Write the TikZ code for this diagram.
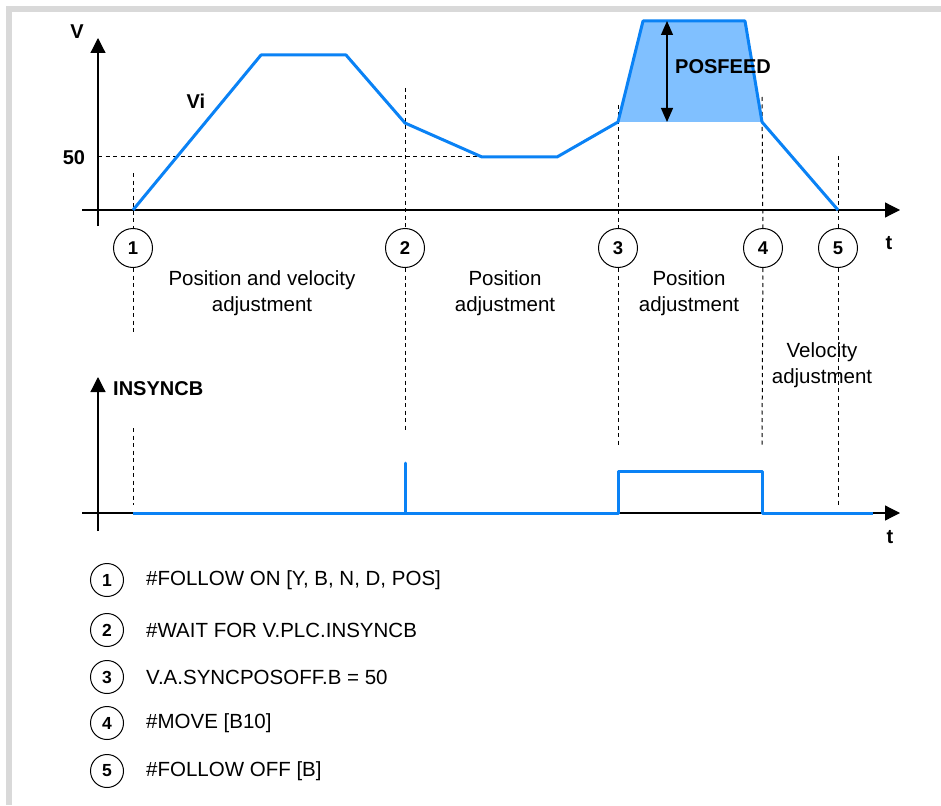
\documentclass[tikz,border=0pt]{standalone}
\usepackage{fontspec}
\setmainfont{Liberation Sans}
\usetikzlibrary{arrows.meta}
\definecolor{curveblue}{RGB}{10,130,245}
\definecolor{fillblue}{RGB}{128,192,255}
\definecolor{framegray}{RGB}{217,217,217}
\begin{document}
\begin{tikzpicture}[x=1pt,y=-1pt,
  axis/.style={line width=1.2pt,-{Triangle[length=15pt,width=15pt]}},
  guide/.style={dash pattern=on 4pt off 3.5pt,line width=1pt},
  speed/.style={curveblue,line width=3pt,line join=round},
  marker/.style={circle,draw,line width=1pt,fill=white,minimum size=39pt,inner sep=0pt,
    font=\bfseries\fontsize{18.5}{18.5}\selectfont},
  legmark/.style={circle,draw,line width=1pt,minimum size=33pt,inner sep=0pt,
    font=\bfseries\fontsize{17.5}{17.5}\selectfont},
  lbl/.style={font=\fontsize{20.5}{26}\selectfont,align=center,inner sep=0pt},
  blbl/.style={font=\bfseries\fontsize{20}{20}\selectfont,inner sep=0pt},
  legtext/.style={font=\fontsize{20.5}{20.5}\selectfont,anchor=west,inner sep=0pt}]

\useasboundingbox (0,0) rectangle (941,805);

% grey frame
\fill[framegray] (6,6) rectangle (941,12);
\fill[framegray] (6,6) rectangle (12,805);

% ---------- velocity diagram ----------
\coordinate (vbot) at (98,226);
\coordinate (vtop) at (98,38);
\coordinate (tleft) at (82,210);
\coordinate (tright) at (900,210);

% reference level 50
\coordinate (h50a) at (98,157);
\coordinate (h50b) at (482,157);
\draw[guide] (h50a) -- (h50b);

% vertical guides with event markers
\node[marker] (m1) at (133,248) {1};
\node[marker] (m2) at (405,248) {2};
\node[marker] (m3) at (618,248) {3};
\node[marker] (m4) at (763,248) {4};
\node[marker] (m5) at (838,248) {5};

\coordinate (g1a) at (133,173); \coordinate (g1b) at (133,335);
\coordinate (g1c) at (133,428); \coordinate (g1d) at (133,505);
\coordinate (g2a) at (405,88);  \coordinate (g2b) at (405,430);
\coordinate (g3a) at (618,105); \coordinate (g3b) at (618,445);
\coordinate (g4a) at (762,97);  \coordinate (g4b) at (762,445);
\coordinate (g5a) at (838,156); \coordinate (g5b) at (838,505);

\draw[guide] (g1a) -- (m1); \draw[guide] (m1) -- (g1b);
\draw[guide] (g1c) -- (g1d);
\draw[guide] (g2a) -- (m2); \draw[guide] (m2) -- (g2b);
\draw[guide] (g3a) -- (m3); \draw[guide] (m3) -- (g3b);
\draw[guide] (g4a) -- (m4); \draw[guide] (m4) -- (g4b);
\draw[guide] (g5a) -- (m5); \draw[guide] (m5) -- (g5b);

% POSFEED area
\fill[fillblue] (618,122) -- (643,21) -- (745,21) -- (762,122) -- cycle;

% axes
\draw[axis] (vbot) -- (vtop);
\draw[axis] (tleft) -- (tright);

% velocity profile
\draw[speed] (133,210) -- (261,55) -- (346,55) -- (405,123) -- (482,157)
  -- (557,157) -- (618,122) -- (643,21) -- (745,21) -- (762,122) -- (838,210);

% POSFEED dimension arrow
\coordinate (pfa) at (667,21);
\coordinate (pfb) at (667,122);
\draw[line width=1.2pt,{Triangle[length=14pt,width=12pt]}-{Triangle[length=14pt,width=12pt]}] (pfa) -- (pfb);

% labels
\node[blbl] (lv) at (77,32) {V};
\node[blbl] (lvi) at (196,101) {Vi};
\node[blbl] (l50) at (74,158) {50};
\node[blbl,anchor=west] (lpf) at (675,67) {POSFEED};
\node[blbl] (lt1) at (889,243) {t};

\node[lbl] (a1) at (262,293) {Position and velocity\\adjustment};
\node[lbl] (a2) at (505,293) {Position\\adjustment};
\node[lbl] (a3) at (689,293) {Position\\adjustment};
\node[lbl] (a4) at (822,365) {Velocity\\adjustment};

% ---------- INSYNCB diagram ----------
\coordinate (sbot) at (98,531);
\coordinate (stop) at (98,377);
\coordinate (sleft) at (82,513);
\coordinate (sright) at (900,513);
\draw[axis] (sbot) -- (stop);
\draw[axis] (sleft) -- (sright);

\draw[speed] (133,513) -- (405,513) -- (405,463) -- (405,513) -- (618,513)
  -- (618,471) -- (762,471) -- (762,513) -- (873,513);

\node[blbl,anchor=west] (lins) at (113,389) {INSYNCB};
\node[blbl] (lt2) at (890,537) {t};

% ---------- legend ----------
\node[legmark] (k1) at (107,580) {1};
\node[legmark] (k2) at (107,630) {2};
\node[legmark] (k3) at (107,677) {3};
\node[legmark] (k4) at (107,723) {4};
\node[legmark] (k5) at (107,771) {5};

\node[legtext] (t1) at (146,580) {\#FOLLOW ON [Y, B, N, D, POS]};
\node[legtext] (t2) at (146,630) {\#WAIT FOR V.PLC.INSYNCB};
\node[legtext] (t3) at (146,677) {V.A.SYNCPOSOFF.B = 50};
\node[legtext] (t4) at (146,723) {\#MOVE [B10]};
\node[legtext] (t5) at (146,771) {\#FOLLOW OFF [B]};

\end{tikzpicture}
\end{document}
